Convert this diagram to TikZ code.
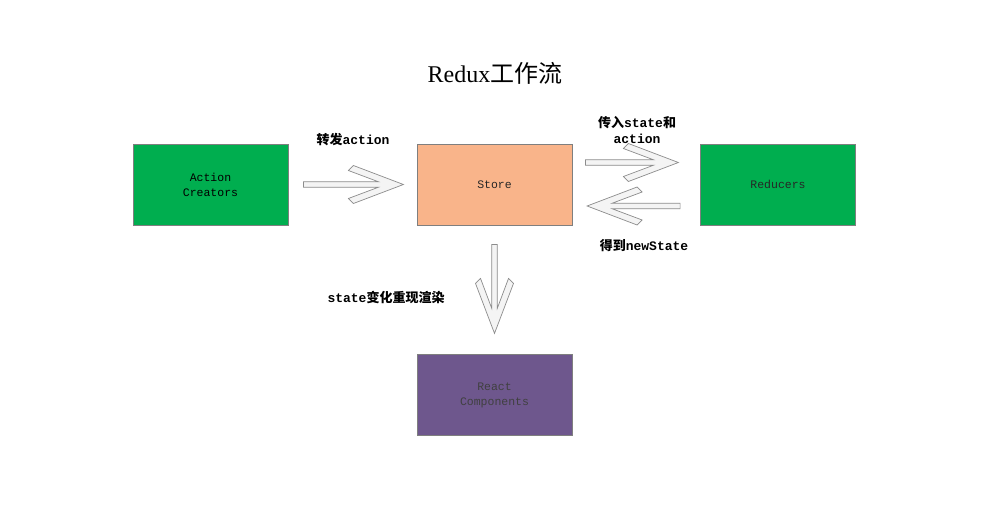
\documentclass[tikz,border=0pt]{standalone}
\usepackage{fontspec}
\setmainfont{Liberation Serif}
\setmonofont{Liberation Mono}
\newfontfamily\cjk{Noto Sans CJK SC}
\usetikzlibrary{calc}
\definecolor{boxgreen}{HTML}{00AE4F}
\definecolor{storecol}{HTML}{F9B48A}
\definecolor{purplecol}{HTML}{6E578D}
\definecolor{bordercol}{HTML}{7F7F7F}
\definecolor{arrfill}{HTML}{F4F4F4}
\definecolor{arrdraw}{HTML}{8C8C8C}
\tikzset{
  box/.style={rectangle, draw=bordercol, line width=0.8pt, minimum width=155pt, minimum height=81pt,
    align=center, font=\ttfamily\fontsize{11.5}{15}\selectfont},
  lbl/.style={align=center, font=\ttfamily\bfseries\fontsize{13}{16}\selectfont},
  arrstyle/.style={fill=arrfill, draw=arrdraw, line width=0.7pt, line join=miter},
  pics/blockarr/.style={code={
    \filldraw[arrstyle] (0,2.75) -- ({#1-25},2.75) -- ({#1-55},14) -- ({#1-50},19) -- (#1,0)
      -- ({#1-50},-19) -- ({#1-55},-14) -- ({#1-25},-2.75) -- (0,-2.75) -- cycle;
  }}
}
\begin{document}
\begin{tikzpicture}[x=1pt,y=-1pt]
\useasboundingbox[fill=white] (0,0) rectangle (998,514);
\node[font=\fontsize{24}{28}\selectfont] (title) at (495,73) {Redux{\cjk 工作流}};
\node[box, fill=boxgreen, text=black] (ac) at (210.5,184.5) {Action\\Creators};
\node[box, fill=storecol, text=black!85] (store) at (494.5,184.5) {Store};
\node[box, fill=boxgreen, text=black!85] (red) at (778,184.5) {Reducers};
\node[box, fill=purplecol, text=black!75] (rc) at (494.5,395) {React\\Components};
\path ($(ac.east)+(15,0)$) pic{blockarr=100};
\path ($(store.east)+(13,-22)$) pic{blockarr=93};
\path ($(red.west)+(-20,21.5)$) pic[rotate=180]{blockarr=93};
\path ($(store.south)+(0,19)$) pic[rotate=-90]{blockarr=89};
\node[lbl] (t1) at (353,140) {{\cjk\bfseries 转发}action};
\node[lbl] (t2) at (637,130) {{\cjk\bfseries 传入}state{\cjk\bfseries 和}\\action};
\node[lbl] (t3) at (644,246) {{\cjk\bfseries 得到}newState};
\node[lbl] (t4) at (386,297) {state{\cjk\bfseries 变化重现渲染}};
\end{tikzpicture}
\end{document}
